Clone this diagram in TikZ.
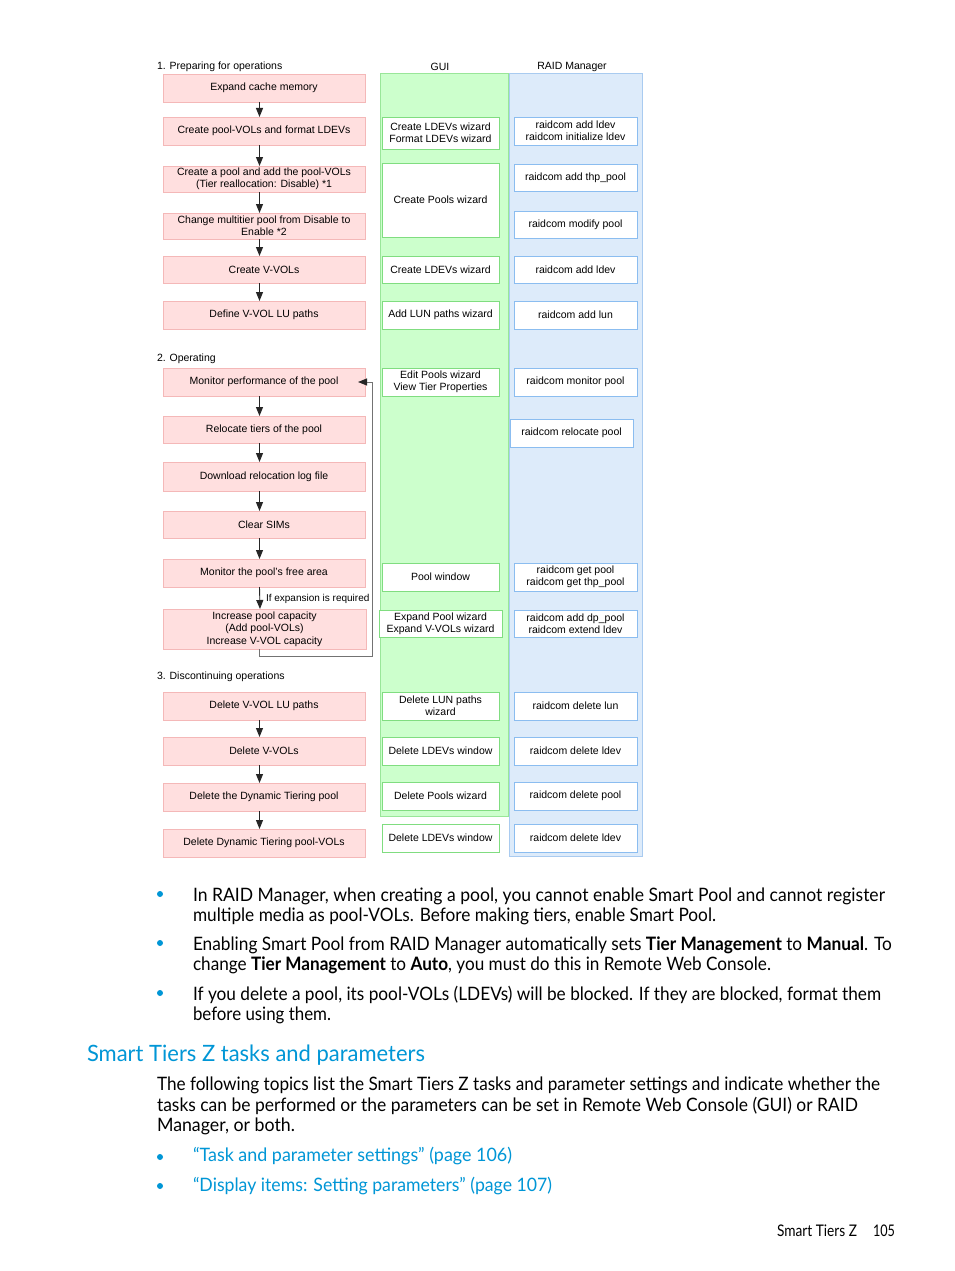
\documentclass[tikz,border=0pt]{standalone}
\usepackage{fontspec}
\usepackage{graphicx}
\setmainfont{Liberation Sans}
\newfontfamily\bodyf{Lato}
\usetikzlibrary{arrows.meta}
\definecolor{pinkfill}{HTML}{FFDFDF}
\definecolor{pinkline}{HTML}{F4B8B8}
\definecolor{greenfill}{HTML}{CCFFCC}
\definecolor{greenline}{HTML}{99E699}
\definecolor{bluefill}{HTML}{DDEBFA}
\definecolor{blueline}{HTML}{A9CBF0}
\definecolor{gboxline}{HTML}{80DD80}
\definecolor{rboxline}{HTML}{8BBDF0}
\definecolor{hpblue}{RGB}{0,150,214}
\newlength\natw
\newcommand\fitto[2]{\settowidth\natw{#2}\pgfmathsetmacro\fsx{#1/\natw}\scalebox{\fsx}[1]{#2}}
\begin{document}
\begin{tikzpicture}[x=1pt,y=-1pt,
  every node/.style={inner sep=0pt, outer sep=0pt},
  dfont/.style={font=\fontsize{10.5}{12.3}\selectfont},
  pinkbox/.style={dfont, draw=pinkline, fill=pinkfill, line width=0.9pt, minimum width=202pt, minimum height=28pt, align=center},
  guibox/.style={dfont, draw=gboxline, fill=white, line width=0.9pt, minimum width=117pt, minimum height=28pt, align=center},
  raidbox/.style={dfont, draw=rboxline, fill=white, line width=0.9pt, minimum width=123pt, minimum height=28pt, align=center},
  flow/.style={draw=black!85, line width=0.9pt, -{Triangle[length=9pt,width=7pt]}},
  back/.style={draw=black!55, line width=1pt, -{Triangle[length=9pt,width=7pt,color=black!85]}},
  lbl/.style={dfont, anchor=west},
  body/.style={font=\bodyf\fontsize{18.5}{21}\selectfont, anchor=base west},
  bul/.style={circle, fill=hpblue, minimum size=6pt},
]
\useasboundingbox (0,0) rectangle (954,1271);
\fill[white] (0,0) rectangle (954,1271);

% columns
\fill[greenfill] (380,73) rectangle (508,816);
\draw[greenline, line width=0.9pt] (380,73) rectangle (508,816);
\fill[bluefill] (509,73) rectangle (642,856);
\draw[blueline, line width=0.9pt] (509,73) rectangle (642,856);

% headers
\node[dfont] (hgui) at (440,67) {GUI};
\node[dfont] (hraid) at (572,67) {RAID Manager};
\node[lbl] (s1) at (157,67) {1. Preparing for operations};
\node[lbl] (s2) at (157,359) {2. Operating};
\node[lbl] (s3) at (157,677) {3. Discontinuing operations};

% flow boxes
\node[pinkbox] (p1) at (264,88) {Expand cache memory};
\node[pinkbox] (p2) at (264,131) {Create pool-VOLs and format LDEVs};
\node[pinkbox, minimum height=26pt] (p3) at (264,179) {Create a pool and add the pool-VOLs\\(Tier reallocation: Disable) *1};
\node[pinkbox, minimum height=26pt] (p4) at (264,226) {Change multitier pool from Disable to\\Enable *2};
\node[pinkbox, minimum height=27pt] (p5) at (264,269.5) {Create V-VOLs};
\node[pinkbox] (p6) at (264,315) {Define V-VOL LU paths};
\node[pinkbox] (p7) at (264,382) {Monitor performance of the pool};
\node[pinkbox, minimum height=27pt] (p8) at (264,429.5) {Relocate tiers of the pool};
\node[pinkbox, minimum height=29pt] (p9) at (264,476.5) {Download relocation log file};
\node[pinkbox, minimum height=27pt] (p10) at (264,524.5) {Clear SIMs};
\node[pinkbox] (p11) at (264,573) {Monitor the pool's free area};
\node[pinkbox, minimum height=40pt, minimum width=203pt] (p12) at (264.5,629) {Increase pool capacity\\(Add pool-VOLs)\\Increase V-VOL capacity};
\node[pinkbox] (p13) at (264,706) {Delete V-VOL LU paths};
\node[pinkbox] (p14) at (264,751) {Delete V-VOLs};
\node[pinkbox] (p15) at (264,797) {Delete the Dynamic Tiering pool};
\node[pinkbox] (p16) at (264,843) {Delete Dynamic Tiering pool-VOLs};

% GUI boxes
\node[guibox, minimum height=32pt] (g1) at (440.5,133) {Create LDEVs wizard\\Format LDEVs wizard};
\node[guibox, minimum height=74pt] (g2) at (440.5,200) {Create Pools wizard};
\node[guibox, minimum height=27pt] (g3) at (440.5,269.5) {Create LDEVs wizard};
\node[guibox] (g4) at (440.5,315) {Add LUN paths wizard};
\node[guibox] (g5) at (440.5,382) {Edit Pools wizard\\View Tier Properties};
\node[guibox] (g6) at (440.5,577) {Pool window};
\node[guibox, minimum height=27pt, minimum width=123pt] (g7) at (440.5,623.5) {Expand Pool wizard\\Expand V-VOLs wizard};
\node[guibox] (g8) at (440.5,706) {Delete LUN paths\\wizard};
\node[guibox] (g9) at (440.5,751) {Delete LDEVs window};
\node[guibox] (g10) at (440.5,796) {Delete Pools wizard};
\node[guibox] (g11) at (440.5,838) {Delete LDEVs window};

% RAID boxes
\node[raidbox] (r1) at (575.5,131) {raidcom add ldev\\raidcom initialize ldev};
\node[raidbox, minimum height=27pt] (r2) at (575.5,177.5) {raidcom add thp\_pool};
\node[raidbox, minimum height=27pt] (r3) at (575.5,224.5) {raidcom modify pool};
\node[raidbox, minimum height=27pt] (r4) at (575.5,269.5) {raidcom add ldev};
\node[raidbox] (r5) at (575.5,315) {raidcom add lun};
\node[raidbox] (r6) at (575.5,382) {raidcom monitor pool};
\node[raidbox] (r7) at (571.5,433) {raidcom relocate pool};
\node[raidbox] (r8) at (575.5,577) {raidcom get pool\\raidcom get thp\_pool};
\node[raidbox, minimum height=27pt] (r9) at (575.5,623.5) {raidcom add dp\_pool\\raidcom extend ldev};
\node[raidbox] (r10) at (575.5,706) {raidcom delete lun};
\node[raidbox] (r11) at (575.5,751) {raidcom delete ldev};
\node[raidbox] (r12) at (575.5,796) {raidcom delete pool};
\node[raidbox] (r13) at (575.5,838) {raidcom delete ldev};

% flow arrows
\foreach \a/\b in {p1/p2,p2/p3,p3/p4,p4/p5,p5/p6,p7/p8,p8/p9,p9/p10,p10/p11,p11/p12,p13/p14,p14/p15,p15/p16}
  \draw[flow] ([xshift=-4.5pt]\a.south) -- ([xshift=-4.5pt]\b.north);
\node[lbl, font=\fontsize{10}{12}\selectfont] (cond) at (266,599) {If expansion is required};

% feedback loop
\coordinate (fb) at (372,656);
\draw[back, shorten >=-7pt] ([xshift=-5pt]p12.south) |- (fb) |- (p7.east);

% body text
\node[bul] (b1) at (160,894) {};
\node[body] (t1a) at (193,901) {\fitto{692}{In RAID Manager, when creating a pool, you cannot enable Smart Pool and cannot register}};
\node[body] (t1b) at (193,921.5) {\fitto{523}{multiple media as pool-VOLs. Before making tiers, enable Smart Pool.}};
\node[bul] (b2) at (160,943) {};
\node[body] (t2a) at (193,950) {\fitto{699}{Enabling Smart Pool from RAID Manager automatically sets \textbf{Tier Management} to \textbf{Manual}. To}};
\node[body] (t2b) at (193,970.5) {\fitto{578}{change \textbf{Tier Management} to \textbf{Auto}, you must do this in Remote Web Console.}};
\node[bul] (b3) at (160,993) {};
\node[body] (t3a) at (193,1000) {\fitto{688}{If you delete a pool, its pool-VOLs (LDEVs) will be blocked. If they are blocked, format them}};
\node[body] (t3b) at (193,1020) {\fitto{138}{before using them.}};

\node[body, font=\bodyf\fontsize{22.5}{26}\selectfont, text=hpblue] (head) at (87,1061) {\fitto{338}{Smart Tiers Z tasks and parameters}};

\node[body] (q1) at (157,1090) {\fitto{723}{The following topics list the Smart Tiers Z tasks and parameter settings and indicate whether the}};
\node[body] (q2) at (157,1111) {\fitto{701}{tasks can be performed or the parameters can be set in Remote Web Console (GUI) or RAID}};
\node[body] (q3) at (157,1131.5) {\fitto{138}{Manager, or both.}};

\node[bul] (b4) at (160,1157) {};
\node[body, text=hpblue] (l1) at (193,1161.5) {\fitto{319}{“Task and parameter settings” (page 106)}};
\node[bul] (b5) at (160,1186) {};
\node[body, text=hpblue] (l2) at (193,1191) {\fitto{359}{“Display items: Setting parameters” (page 107)}};

\node[body, font=\bodyf\fontsize{16}{19}\selectfont] (f1) at (777,1236.7) {\fitto{80}{Smart Tiers Z}};
\node[body, anchor=base east, font=\bodyf\fontsize{16}{19}\selectfont] (f2) at (895,1236.7) {\fitto{22}{105}};
\end{tikzpicture}
\end{document}
